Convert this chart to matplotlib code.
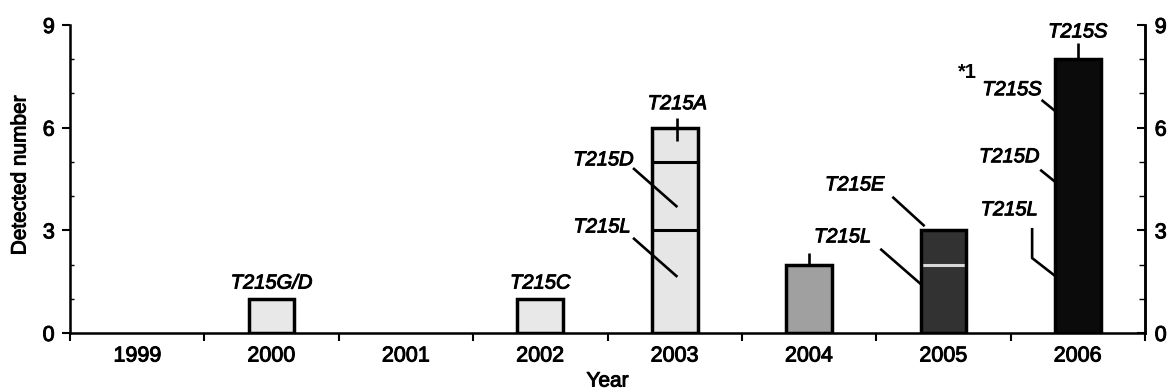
import numpy as np
import matplotlib
matplotlib.use('Agg')
import matplotlib.pyplot as plt
import matplotlib.ticker as ticker
import matplotlib.patheffects as pe

plt.rcParams['font.family'] = ['Liberation Sans', 'DejaVu Sans']

years = ['1999', '2000', '2001', '2002', '2003', '2004', '2005', '2006']

# stacked counts per variant, one value per year
t215gd = [0, 1, 0, 0, 0, 0, 0, 0]
t215c = [0, 0, 0, 1, 0, 0, 0, 0]
t215l = [0, 0, 0, 0, 3, 2, 2, 3]
t215d = [0, 0, 0, 0, 2, 0, 0, 2]
t215a = [0, 0, 0, 0, 1, 0, 0, 0]
t215e = [0, 0, 0, 0, 0, 0, 1, 0]
t215s = [0, 0, 0, 0, 0, 0, 0, 3]
segments = [t215gd, t215c, t215l, t215d, t215a, t215e, t215s]

year_colors = ['#e8e8e8', '#e8e8e8', '#e8e8e8', '#e8e8e8', '#e6e6e6',
               '#a0a0a0', '#323232', '#0b0b0b']
sep_colors = ['k', 'k', 'k', 'k', 'k', 'k', '#d8d8d8', '#0b0b0b']

# thicken text a bit, the original is a dark scan
heavy = [pe.withStroke(linewidth=0.7, foreground='black')]

fig = plt.figure(figsize=(11.7, 3.92), dpi=100)
ax = fig.add_axes([70 / 1170, 59 / 392, 1075 / 1170, 308 / 392])

x = np.arange(len(years))
w = 0.34
bottoms = np.zeros(len(years))
for vals in segments:
    vals = np.array(vals, dtype=float)
    ax.bar(x, vals, bottom=bottoms, width=w, color=year_colors, linewidth=0, zorder=2)
    # separators between stacked parts
    for i in range(len(years)):
        if vals[i] > 0 and bottoms[i] > 0:
            ax.hlines(bottoms[i], x[i] - w / 2, x[i] + w / 2, color=sep_colors[i],
                      lw=2.2, zorder=3)
    bottoms = bottoms + vals

totals = bottoms
has = totals > 0
ax.bar(x[has], totals[has], width=w, fill=False, edgecolor='black', linewidth=2.5, zorder=4)

ax.set_xlim(-0.5, 7.5)
ax.set_ylim(0, 9)

# x: ticks at year boundaries, labels in the middle
ax.set_xticks(np.arange(-0.5, 8, 1))
ax.set_xticklabels([])
ax.set_xticks(x, minor=True)
ax.set_xticklabels(years, minor=True, fontsize=15.5)
ax.tick_params(axis='x', which='major', direction='out', length=6, width=1.5)
ax.tick_params(axis='x', which='minor', length=0, pad=9)

ax.yaxis.set_major_locator(ticker.MultipleLocator(3))
ax.yaxis.set_minor_locator(ticker.MultipleLocator(1))
ax.tick_params(axis='y', which='major', direction='out', length=6, width=1.5,
               labelsize=15.5, pad=5)
ax.tick_params(axis='y', which='minor', direction='in', length=3, width=1)

for s in ['left', 'bottom', 'right']:
    ax.spines[s].set_linewidth(1.8)
ax.spines['top'].set_visible(False)

ax2 = ax.twinx()
ax2.set_ylim(0, 9)
ax2.yaxis.set_major_locator(ticker.MultipleLocator(3))
ax2.yaxis.set_minor_locator(ticker.MultipleLocator(1))
ax2.tick_params(axis='y', which='major', direction='in', length=6, width=1.5,
                labelsize=15.5, pad=7)
ax2.tick_params(axis='y', which='minor', direction='in', length=4, width=1)
ax2.spines['top'].set_visible(False)
ax2.spines['right'].set_linewidth(1.8)

ax.set_ylabel('Detected number', fontsize=15)
ax.yaxis.set_label_coords(-0.0465, 0.513)
ax.yaxis.label.set_va('center')
ax.set_xlabel('Year', fontsize=15)
ax.xaxis.set_label_coords(0.5, -0.156)
ax.xaxis.label.set_va('center')

for t in (ax.get_xticklabels(minor=True) + ax.get_yticklabels() + ax2.get_yticklabels()
          + [ax.xaxis.label, ax.yaxis.label]):
    t.set_path_effects(heavy)

lab = dict(fontsize=14.5, style='italic', ha='center', va='center', zorder=6,
           path_effects=heavy)
line = dict(color='black', lw=1.9, solid_capstyle='butt', zorder=6)

ax.text(1.0, 1.46, 'T215G/D', **lab)
ax.text(3.0, 1.46, 'T215C', **lab)

# 2003
ax.text(4.02, 6.70, 'T215A', **lab)
ax.plot([4.02, 4.02], [6.28, 5.6], **line)
ax.text(3.47, 5.06, 'T215D', **lab)
ax.plot([3.69, 4.02], [4.82, 3.68], **line)
ax.text(3.46, 3.10, 'T215L', **lab)
ax.plot([3.69, 4.02], [2.78, 1.64], **line)

# 2004 / 2005
ax.plot([5.0, 5.0], [2.35, 2.0], **line)
ax.text(5.25, 2.81, 'T215L', **lab)
ax.plot([5.53, 5.84], [2.46, 1.40], **line)
ax.text(5.34, 4.33, 'T215E', **lab)
ax.plot([5.62, 5.86], [3.98, 3.12], **line)

# 2006
ax.text(7.0, 8.80, 'T215S', **lab)
ax.plot([7.0, 7.0], [8.48, 8.0], **line)
ax.text(6.25, 7.62, '*1', fontsize=14.5, fontweight='bold', ha='right', va='center')
ax.text(6.51, 7.11, 'T215S', **lab)
ax.plot([6.73, 6.84], [6.81, 6.46], **line)
ax.text(6.49, 5.15, 'T215D', **lab)
ax.plot([6.72, 6.84], [4.77, 4.39], **line)
ax.text(6.49, 3.60, 'T215L', **lab)
ax.plot([6.66, 6.66, 6.84], [3.07, 2.19, 1.64], **line)

fig.savefig('out.png', dpi=100)
